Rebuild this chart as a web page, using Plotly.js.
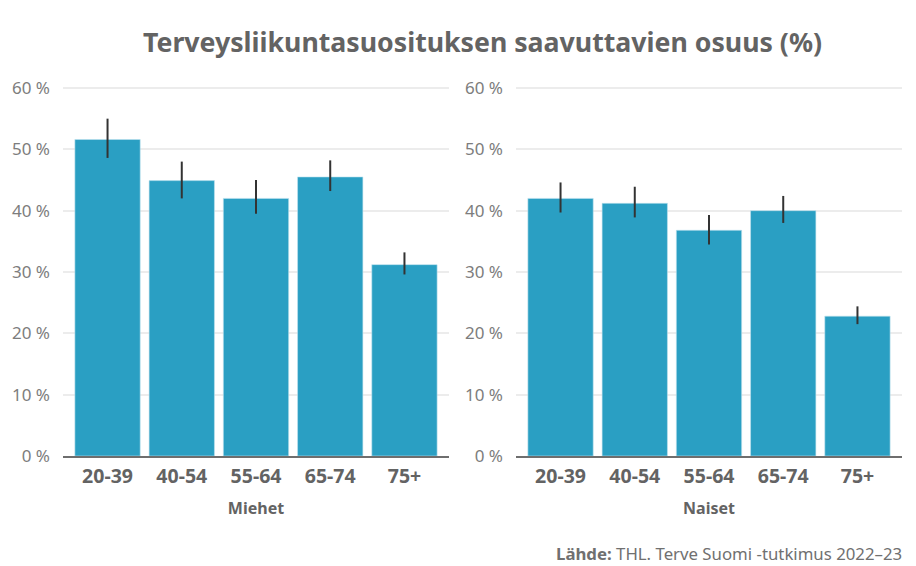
<!DOCTYPE html>
<html>
<head>
<meta charset="utf-8">
<script src="https://cdn.plot.ly/plotly-3.0.1.min.js"></script>
<style>html,body{margin:0;padding:0;background:#fff}#chart{width:916px;height:566px}</style>
</head>
<body>
<div id="chart"></div>
<script>
const categories = ['20-39','40-54','55-64','65-74','75+'];
const miehet = [51.6,44.9,42.0,45.5,31.2];
const miehetLow = [48.6,42.0,39.5,43.2,29.6];
const miehetHigh = [55.0,48.0,45.0,48.2,33.2];
const naiset = [42.0,41.2,36.8,40.0,22.8];
const naisetLow = [39.7,38.9,34.5,38.0,21.5];
const naisetHigh = [44.6,43.9,39.3,42.4,24.4];
const yTicks = [0,10,20,30,40,50,60];
const yTickLabels = yTicks.map(v => v + ' %');
const fontName = '"Noto Sans", "Open Sans", sans-serif';

function series(vals, low, high, xa, ya) {
  return {
    type:'bar', x:categories, y:vals, xaxis:xa, yaxis:ya, width:0.88,
    marker:{color:'#2a9fc3', line:{color:'#bfe3ee', width:0.6}},
    error_y:{type:'data', symmetric:false,
      array:high.map((h,i)=>h-vals[i]),
      arrayminus:low.map((l,i)=>vals[i]-l),
      color:'#333333', thickness:2, width:0},
    hoverinfo:'x+y', showlegend:false
  };
}
const xCommon = {
  type:'category', range:[-0.6,4.6], showgrid:false, ticks:'', showline:true,
  linecolor:'#6e6e6e', linewidth:2, zeroline:false, automargin:false, ticklabelstandoff:2,
  tickfont:{family:fontName,size:19.5,color:'#636363',weight:700}
};
const yCommon = {
  range:[0,60.5], tickvals:yTicks, ticktext:yTickLabels, ticks:'', showline:false,
  gridcolor:'#ececec', gridwidth:1.5, zeroline:false, automargin:false, ticklabelstandoff:12,
  tickfont:{family:fontName,size:17,color:'#7d7d7d'}
};
function xTitle(t){return {text:t, standoff:14, font:{family:fontName,size:16,color:'#636363',weight:700}};}
const layout = {
  width:916, height:566, margin:{l:0,r:0,t:0,b:0,pad:0},
  paper_bgcolor:'#ffffff', plot_bgcolor:'#ffffff', showlegend:false, bargap:0.12,
  xaxis:Object.assign({},xCommon,{domain:[63/916,449/916],anchor:'y',title:xTitle('Miehet')}),
  xaxis2:Object.assign({},xCommon,{domain:[516/916,902/916],anchor:'y2',title:xTitle('Naiset')}),
  yaxis:Object.assign({},yCommon,{domain:[110/566,481.07/566],anchor:'x'}),
  yaxis2:Object.assign({},yCommon,{domain:[110/566,481.07/566],anchor:'x2'}),
  title:{text:'<b>Terveysliikuntasuosituksen saavuttavien osuus (%)</b>',
    font:{family:fontName,size:26.7,color:'#636363'}, x:482.5/916, xanchor:'center', y:1-43/566, yanchor:'middle'},
  annotations:[{
    xref:'paper', yref:'paper', x:904/916, y:1-553/566, xanchor:'right', yanchor:'middle', showarrow:false,
    text:'<b>Lähde:</b> THL. Terve Suomi -tutkimus 2022–23',
    font:{family:fontName,size:16.8,color:'#707070'}
  }]
};
Plotly.newPlot('chart',[
  series(miehet,miehetLow,miehetHigh,'x','y'),
  series(naiset,naisetLow,naisetHigh,'x2','y2')
],layout,{displayModeBar:false,responsive:false});
</script>
</body>
</html>
